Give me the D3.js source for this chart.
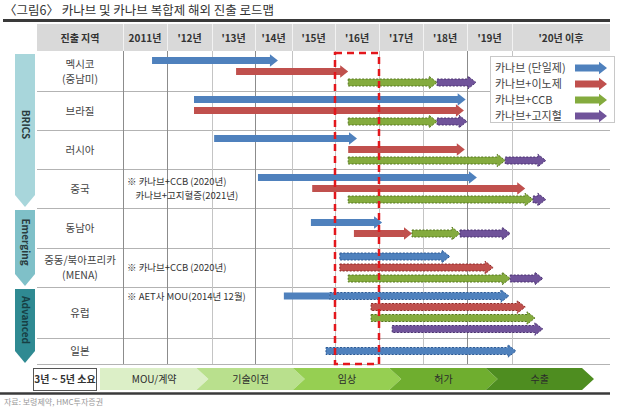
<!DOCTYPE html>
<html>
<head>
<meta charset="utf-8">
<script src="https://cdn.jsdelivr.net/npm/d3@7"></script>
<style>
  body { margin: 0; background: #fff; }
  svg text { font-family: "Noto Sans CJK KR", "Noto Sans", sans-serif; }
</style>
</head>
<body>
<svg id="chart" width="630" height="409"></svg>
<script>
// ---- data ----
const title = '〈그림6〉 카나브 및 카나브 복합제 해외 진출 로드맵';
const source = '자료: 보령제약, HMC투자증권';
const yearLabels = ['2011년', "'12년", "'13년", "'14년", "'15년", "'16년", "'17년", "'18년", "'19년", "'20년 이후"];
const yearEdges = [2011, 2012, 2013, 2014, 2015, 2016, 2017, 2018, 2019, 2020, 2022];
const regions = ['멕시코\n(중남미)', '브라질', '러시아', '중국', '동남아', '중동/북아프리카\n(MENA)', '유럽', '일본'];
const groups = [
  { name: 'BRICS', first: 0, last: 3 },
  { name: 'Emerging', first: 4, last: 5 },
  { name: 'Advanced', first: 6, last: 7 }
];
const seriesNames = ['카나브 (단일제)', '카나브+이노제', '카나브+CCB', '카나브+고지혈'];
const stages = ['MOU/계약', '기술이전', '임상', '허가', '수출'];
const durationLabel = '3년 ~ 5년 소요';
const highlightYear = 2016;

// s: series index, lane inside the row, planned = dashed outline, head = arrow tip
const bars = [
  { r: 0, lane: 0, s: 0, start: 2011.66, end: 2014.62 },
  { r: 0, lane: 1, s: 1, start: 2013.56, end: 2016.30 },
  { r: 0, lane: 2, s: 2, start: 2016.30, end: 2018.32, planned: true },
  { r: 0, lane: 2, s: 3, start: 2018.32, end: 2019.20, planned: true },
  { r: 1, lane: 0, s: 0, start: 2012.60, end: 2018.97 },
  { r: 1, lane: 1, s: 1, start: 2012.60, end: 2018.93 },
  { r: 1, lane: 2, s: 2, start: 2016.30, end: 2018.32, planned: true },
  { r: 1, lane: 2, s: 3, start: 2018.32, end: 2019.00, planned: true },
  { r: 2, lane: 0, s: 0, start: 2013.05, end: 2016.50 },
  { r: 2, lane: 1, s: 1, start: 2016.30, end: 2018.95 },
  { r: 2, lane: 2, s: 2, start: 2016.30, end: 2019.85, planned: true },
  { r: 2, lane: 2, s: 3, start: 2019.85, end: 2020.69, planned: true },
  { r: 3, lane: 0, s: 0, start: 2014.08, end: 2019.22 },
  { r: 3, lane: 1, s: 1, start: 2015.47, end: 2020.27 },
  { r: 3, lane: 2, s: 2, start: 2016.30, end: 2020.43, planned: true },
  { r: 3, lane: 2, s: 3, start: 2020.43, end: 2020.69, planned: true },
  { r: 4, lane: 0, s: 0, start: 2015.44, end: 2017.07 },
  { r: 4, lane: 1, s: 1, start: 2016.43, end: 2017.75 },
  { r: 4, lane: 1, s: 2, start: 2017.75, end: 2018.84, planned: true },
  { r: 4, lane: 1, s: 3, start: 2018.84, end: 2019.96, planned: true },
  { r: 5, lane: 0, s: 0, start: 2016.11, end: 2018.61, planned: true },
  { r: 5, lane: 1, s: 1, start: 2016.11, end: 2019.58, planned: true },
  { r: 5, lane: 2, s: 2, start: 2016.30, end: 2019.96, planned: true },
  { r: 5, lane: 2, s: 3, start: 2019.96, end: 2020.63, planned: true },
  { r: 6, lane: 0, s: 0, start: 2014.78, end: 2015.88, head: false },
  { r: 6, lane: 0, s: 0, start: 2015.88, end: 2019.93, planned: true },
  { r: 6, lane: 1, s: 1, start: 2016.82, end: 2020.27, planned: true },
  { r: 6, lane: 2, s: 2, start: 2016.82, end: 2020.47, planned: true },
  { r: 6, lane: 3, s: 3, start: 2017.30, end: 2020.63, planned: true },
  { r: 7, lane: 0, s: 0, start: 2015.79, end: 2020.08, planned: true }
];

const notes = [
  { r: 3, lines: ['※ 카나브+CCB (2020년)', '    카나브+고지혈증(2021년)'] },
  { r: 5, lines: ['※ 카나브+CCB (2020년)'] },
  { r: 6, lines: ['※ AET사 MOU(2014년 12월)'], top: true }
];

// ---- layout ----
const svg = d3.select('#chart');
const colors = ['#4f81bd', '#c0504d', '#84ab3e', '#70539a'];
const darker = ['#2c5a94', '#8e2b28', '#55761f', '#4a3270'];
const tableLeft = 37, labelRight = 123, tableRight = 610;
const headTop = 24, headBottom = 51;
const rowHeights = [39, 39, 39, 39, 40, 39, 51, 26];
const rowTops = rowHeights.reduce((a, h) => (a.push(a[a.length - 1] + h), a), [52]);
const bodyBottom = rowTops[rowTops.length - 1];

const x = d3.scaleLinear()
  .domain(yearEdges)
  .range([123, 167, 212, 255, 292, 335, 379, 423, 467, 512, 610]);
const rowTop = d3.scaleOrdinal().domain(d3.range(regions.length)).range(rowTops);
const rowMid = r => rowTop(r) + rowHeights[r] / 2;
const laneCount = d3.rollup(bars, v => d3.max(v, d => d.lane) + 1, d => d.r);
const laneY = d => rowMid(d.r) + (d.lane - (laneCount.get(d.r) - 1) / 2) * 11;

// title and rules
svg.append('text').attr('x', 4).attr('y', 15)
  .attr('font-size', 12.5).attr('fill', '#333').text(title);
svg.append('line').attr('x1', 3).attr('x2', tableRight).attr('y1', 20.5).attr('y2', 20.5)
  .attr('stroke', '#3a3a3a').attr('stroke-width', 3);
svg.append('line').attr('x1', 0).attr('x2', tableRight).attr('y1', 393.5).attr('y2', 393.5)
  .attr('stroke', '#3a3a3a').attr('stroke-width', 2.5);
svg.append('text').attr('x', 4).attr('y', 405)
  .attr('font-size', 8).attr('fill', '#999').text(source);

// header
svg.append('rect').attr('x', tableLeft).attr('y', headTop)
  .attr('width', tableRight - tableLeft).attr('height', headBottom - headTop).attr('fill', '#d9d9d9');
const headCells = [{ label: '진출 지역', x0: tableLeft, x1: labelRight }].concat(
  yearLabels.map((l, i) => ({ label: l, x0: x(yearEdges[i]), x1: x(yearEdges[i + 1]) })));
svg.append('g').selectAll('line').data(headCells.slice(1)).join('line')
  .attr('x1', d => d.x0 + 0.5).attr('x2', d => d.x0 + 0.5)
  .attr('y1', headTop).attr('y2', headBottom).attr('stroke', '#f2f2f2');
svg.append('g').selectAll('text').data(headCells).join('text')
  .attr('x', d => (d.x0 + d.x1) / 2).attr('y', (headTop + headBottom) / 2 + 4)
  .attr('text-anchor', 'middle').attr('font-size', 10).attr('font-weight', 'bold')
  .attr('fill', '#333').text(d => d.label);

// grid
const grid = svg.append('g').attr('stroke', '#b3b3b3').attr('stroke-width', 1);
grid.selectAll('.h').data(rowTops.slice(1)).join('line').attr('class', 'h')
  .attr('x1', tableLeft).attr('x2', tableRight)
  .attr('y1', d => d + 0.5).attr('y2', d => d + 0.5);
grid.selectAll('.v').data(yearEdges.slice(0, -1)).join('line').attr('class', 'v')
  .attr('x1', d => Math.round(x(d)) + 0.5).attr('x2', d => Math.round(x(d)) + 0.5)
  .attr('y1', headBottom).attr('y2', bodyBottom)
  .attr('stroke', (d, i) => [0, 1, 3, 8].includes(i) ? '#8c8c8c' : '#c4c4c4');

// region labels
svg.append('g').selectAll('text').data(regions).join('text')
  .attr('text-anchor', 'middle').attr('font-size', 10.5).attr('fill', '#444')
  .each(function (d, i) {
    const lines = d.split('\n');
    d3.select(this).selectAll('tspan').data(lines).join('tspan')
      .attr('x', (tableLeft + labelRight) / 2)
      .attr('y', (l, j) => rowMid(i) + 4 + (j - (lines.length - 1) / 2) * 15)
      .text(l => l);
  });

// group arrows on the left
const ga = svg.append('g');
const groupFill = ['#a8d6db', '#7fc0c8', '#2f8a92'];
groups.forEach((g, i) => {
  const top = rowTop(g.first) + 2;
  const bottom = rowTop(g.last) + rowHeights[g.last] - 1;
  const x0 = 15, x1 = 35, hl = 12;
  ga.append('path')
    .attr('d', `M${x0},${top}H${x1}V${bottom - hl}L${(x0 + x1) / 2},${bottom}L${x0},${bottom - hl}Z`)
    .attr('fill', groupFill[i]);
  const cy = (top + bottom - hl) / 2;
  ga.append('text').attr('transform', `translate(${(x0 + x1) / 2 - 3.5},${cy}) rotate(90)`)
    .attr('text-anchor', 'middle').attr('font-size', 10).attr('font-weight', 'bold')
    .attr('fill', i === 2 ? '#173f44' : '#2a3b3d').text(g.name);
});

// notes (one text element per line)
const noteLines = notes.flatMap(d => {
  const base = d.top ? rowTop(d.r) + 13 : rowMid(d.r) + 3.5 - (d.lines.length - 1) * 7;
  return d.lines.map((l, j) => ({ text: l, y: base + j * 14 }));
});
svg.append('g').selectAll('text').data(noteLines).join('text')
  .attr('x', 127).attr('y', d => d.y)
  .attr('font-size', 9.5).attr('fill', '#333')
  .attr('xml:space', 'preserve').text(d => d.text);

// arrows
const T = 7, H = 12.5, L = 8;
function arrowPath(x0, x1, y, head) {
  if (!head) return `M${x0},${y - T / 2}H${x1}V${y + T / 2}H${x0}Z`;
  const xb = x1 - L;
  return `M${x0},${y - T / 2}H${xb}V${y - H / 2}L${x1},${y}L${xb},${y + H / 2}V${y + T / 2}H${x0}Z`;
}
svg.append('g').selectAll('path').data(bars).join('path')
  .attr('d', d => arrowPath(x(d.start), x(d.end), laneY(d), d.head !== false))
  .attr('fill', d => colors[d.s])
  .attr('stroke', d => d.planned ? darker[d.s] : 'none')
  .attr('stroke-width', 1)
  .attr('stroke-dasharray', d => d.planned ? '2,1.5' : null);

// highlighted year box
svg.append('rect')
  .attr('x', x(highlightYear)).attr('y', headBottom + 2)
  .attr('width', x(highlightYear + 1) - x(highlightYear)).attr('height', bodyBottom - headBottom - 2)
  .attr('fill', 'none').attr('stroke', '#e3171c').attr('stroke-width', 2.5)
  .attr('stroke-dasharray', '7,5');

// legend
const lg = svg.append('g');
lg.append('rect').attr('x', 490.5).attr('y', 56.5).attr('width', 124).attr('height', 66)
  .attr('fill', '#fff').attr('stroke', '#c8c8c8');
seriesNames.forEach((n, i) => {
  const y = 68 + i * 16;
  lg.append('text').attr('x', 495).attr('y', y + 4).attr('font-size', 11)
    .attr('fill', '#444').text(n);
  lg.append('path').attr('d', arrowPath(575, 607, y, true)).attr('fill', colors[i]);
});

// stage band
const bandTop = 368, bandBottom = 390;
svg.append('rect').attr('x', 33.5).attr('y', bandTop + 0.5).attr('width', 63).attr('height', bandBottom - bandTop)
  .attr('fill', '#fff').attr('stroke', '#555');
svg.append('text').attr('x', 65).attr('y', (bandTop + bandBottom) / 2 + 4)
  .attr('text-anchor', 'middle').attr('font-size', 10).attr('font-weight', 'bold')
  .attr('fill', '#333').text(durationLabel);
const sx = d3.scaleBand().domain(stages).range([100, 582]).padding(0);
const stageFill = ['#dcefc7', '#b9e08d', '#96cf52', '#6fae2f', '#4e8d20'];
const tip = 12, midY = (bandTop + bandBottom) / 2;
svg.append('g').selectAll('path').data(stages).join('path')
  .attr('d', (d, i) => {
    const a = sx(d), b = a + sx.bandwidth();
    const notch = i === 0 ? '' : `L${a + tip},${midY}`;
    return `M${a},${bandTop}H${b}L${b + tip},${midY}L${b},${bandBottom}H${a}${notch}Z`;
  })
  .attr('fill', (d, i) => stageFill[i]);
svg.append('g').selectAll('text').data(stages).join('text')
  .attr('x', d => sx(d) + sx.bandwidth() / 2 + 6).attr('y', midY + 4)
  .attr('text-anchor', 'middle').attr('font-size', 10).attr('fill', '#2b2b2b').text(d => d);
</script>
</body>
</html>
